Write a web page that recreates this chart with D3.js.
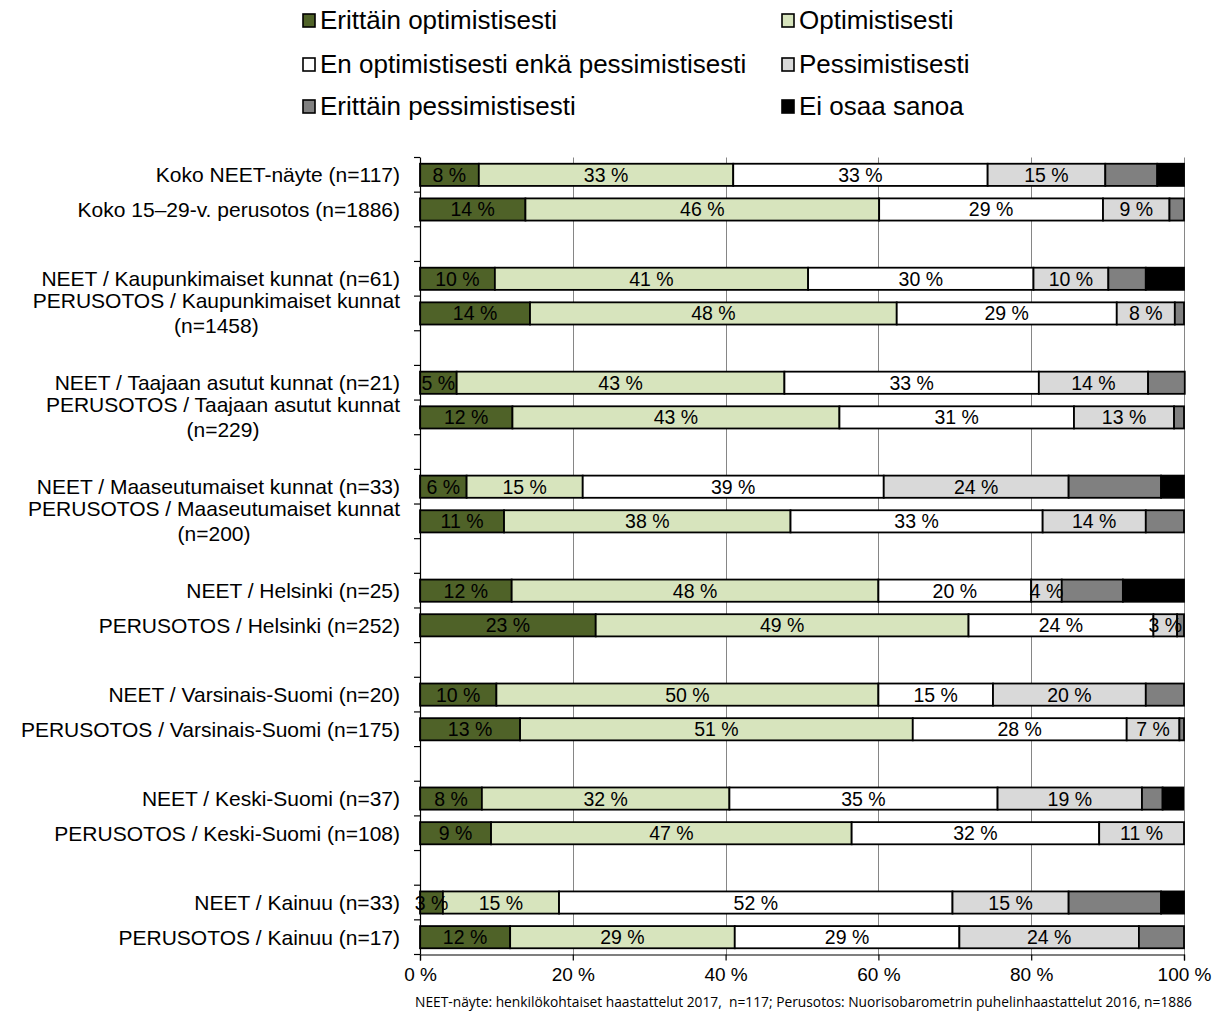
<!DOCTYPE html>
<html>
<head>
<meta charset="utf-8">
<script src="https://cdn.jsdelivr.net/npm/d3@7"></script>
<style>
  html, body { margin: 0; padding: 0; background: #fff; }
  svg { display: block; font-family: "Liberation Sans", Arial, sans-serif; }
</style>
</head>
<body>
<svg id="chart" width="1222" height="1021"></svg>
<script>
const categories = [
  "Koko NEET-näyte (n=117)",
  "Koko 15–29-v. perusotos (n=1886)",
  "NEET / Kaupunkimaiset kunnat (n=61)",
  "PERUSOTOS / Kaupunkimaiset kunnat\n(n=1458)",
  "NEET / Taajaan asutut kunnat (n=21)",
  "PERUSOTOS / Taajaan asutut kunnat\n(n=229)",
  "NEET / Maaseutumaiset kunnat (n=33)",
  "PERUSOTOS / Maaseutumaiset kunnat\n(n=200)",
  "NEET / Helsinki (n=25)",
  "PERUSOTOS / Helsinki (n=252)",
  "NEET / Varsinais-Suomi (n=20)",
  "PERUSOTOS / Varsinais-Suomi (n=175)",
  "NEET / Keski-Suomi (n=37)",
  "PERUSOTOS / Keski-Suomi (n=108)",
  "NEET / Kainuu (n=33)",
  "PERUSOTOS / Kainuu (n=17)"
];
const seriesNames = [
  "Erittäin optimistisesti",
  "Optimistisesti",
  "En optimistisesti enkä pessimistisesti",
  "Pessimistisesti",
  "Erittäin pessimistisesti",
  "Ei osaa sanoa"
];
const erittainOptimistisesti = [7.7, 13.8, 9.8, 14.4, 4.8, 12.1, 6.1, 11.0, 12, 23.0, 10, 13.1, 8.1, 9.3, 3.0, 11.8];
const optimistisesti        = [33.3, 46.3, 41.0, 48.0, 42.9, 42.8, 15.2, 37.5, 48, 48.8, 50, 51.4, 32.4, 47.2, 15.2, 29.4];
const neutraali             = [33.3, 29.3, 29.5, 28.8, 33.3, 30.7, 39.4, 33.0, 20, 24.2, 15, 28.0, 35.1, 32.4, 51.5, 29.4];
const pessimistisesti       = [15.4, 8.7, 9.8, 7.6, 14.3, 13.1, 24.2, 13.5, 4, 3.1, 20, 6.9, 18.9, 11.1, 15.2, 23.5];
const erittainPessimistisesti = [6.8, 1.9, 4.9, 1.2, 4.8, 1.3, 12.1, 5.0, 8, 0.9, 5, 0.6, 2.7, 0, 12.1, 5.9];
const eiOsaaSanoa           = [3.5, 0, 5.0, 0, 0, 0, 3.0, 0, 8, 0, 0, 0, 2.7, 0, 3.0, 0];
const xTicks = [0, 20, 40, 60, 80, 100];
const xTickLabels = ["0 %", "20 %", "40 %", "60 %", "80 %", "100 %"];
const colors = ["#4f6228", "#d7e4bd", "#ffffff", "#d9d9d9", "#808080", "#000000"];
const footnote = "NEET-näyte: henkilökohtaiset haastattelut 2017,  n=117; Perusotos: Nuorisobarometrin puhelinhaastattelut 2016, n=1886";

const allSeries = [erittainOptimistisesti, optimistisesti, neutraali, pessimistisesti, erittainPessimistisesti, eiOsaaSanoa];
const keys = seriesNames;
const rows = categories.map((c, i) => {
  const o = { cat: c, slot: Math.floor(i / 2) * 3 + (i % 2) };
  keys.forEach((k, s) => o[k] = allSeries[s][i]);
  return o;
});
const stacked = d3.stack().keys(keys)(rows);

const svg = d3.select("#chart");
const x0 = 420, x1 = 1184, yTop = 157.5, yBot = 954.5;
const nSlots = 23;
const x = d3.scaleLinear().domain([0, 100]).range([x0, x1]);
const y = d3.scaleBand().domain(d3.range(nSlots)).range([yTop, yBot]).paddingInner(0.36).paddingOuter(0.18);

// gridlines
svg.append("g").selectAll("line").data(xTicks.filter(d => d > 0)).join("line")
  .attr("x1", d => Math.round(x(d)) + 0.5).attr("x2", d => Math.round(x(d)) + 0.5)
  .attr("y1", yTop).attr("y2", yBot)
  .attr("stroke", "#868686").attr("stroke-width", 1);

// bars
const g = svg.append("g");
stacked.forEach((layer, s) => {
  g.append("g").selectAll("rect").data(layer.filter(d => d[1] - d[0] > 0)).join("rect")
    .attr("x", d => x(d[0]))
    .attr("y", d => y(d.data.slot))
    .attr("width", d => x(d[1]) - x(d[0]))
    .attr("height", y.bandwidth())
    .attr("fill", colors[s])
    .attr("stroke", "#000")
    .attr("stroke-width", 1.8);
});

// value labels (first four series)
stacked.slice(0, 4).forEach((layer, s) => {
  g.append("g").selectAll("text").data(layer.filter(d => d[1] - d[0] >= 2.5)).join("text")
    .attr("x", d => x((d[0] + d[1]) / 2))
    .attr("y", d => y(d.data.slot) + y.bandwidth() / 2)
    .attr("dy", "0.36em")
    .attr("text-anchor", "middle")
    .attr("font-size", 19.5)
    .attr("fill", "#000")
    .text(d => Math.round(d[1] - d[0]) + " %");
});

// left axis
const step = (yBot - yTop) / nSlots;
svg.append("line").attr("x1", x0 + 0.5).attr("x2", x0 + 0.5).attr("y1", yTop).attr("y2", yBot)
  .attr("stroke", "#000").attr("stroke-width", 1.2);
svg.append("g").selectAll("line").data(d3.range(nSlots + 1)).join("line")
  .attr("x1", x0 - 6).attr("x2", x0)
  .attr("y1", d => yTop + d * step).attr("y2", d => yTop + d * step)
  .attr("stroke", "#000").attr("stroke-width", 1.2);

// bottom axis
const xAxis = d3.axisBottom(x).tickValues(xTicks).tickSize(6).tickFormat((d, i) => xTickLabels[i]);
const ax = svg.append("g").attr("transform", `translate(0,${yBot})`).call(xAxis);
ax.select(".domain").attr("stroke", "#000").attr("stroke-width", 1.2);
ax.selectAll(".tick line").attr("stroke", "#000").attr("stroke-width", 1.2);
ax.selectAll(".tick text").attr("font-size", 19).attr("font-family", "Liberation Sans, Arial, sans-serif")
  .attr("fill", "#000").attr("y", 13).attr("dy", "0.71em");

// category labels
const labG = svg.append("g");
rows.forEach(r => {
  const lines = r.cat.split("\n");
  const cy = y(r.slot) + y.bandwidth() / 2;
  const lh = 25;
  const t = labG.append("text").attr("font-size", 21).attr("fill", "#000");
  lines.forEach((ln, i) => {
    t.append("tspan").attr("y", cy + (i - (lines.length - 1) / 2) * lh).attr("dy", "0.36em").text(ln);
  });
  const widths = [];
  t.selectAll("tspan").each(function () { widths.push(this.getComputedTextLength()); });
  const maxW = d3.max(widths);
  t.attr("text-anchor", "middle");
  t.selectAll("tspan").attr("x", 400 - maxW / 2);
});

// legend
const legPos = [[305, 20], [784, 20], [305, 64], [784, 64], [305, 106], [784, 106]];
const lg = svg.append("g");
seriesNames.forEach((n, i) => {
  const [lx, ly] = legPos[i];
  lg.append("rect").attr("x", lx - 2).attr("y", ly - 6).attr("width", 12).attr("height", 13)
    .attr("fill", colors[i]).attr("stroke", "#000").attr("stroke-width", 1.6);
  lg.append("text").attr("x", lx + 15).attr("y", ly).attr("dy", "0.36em")
    .attr("font-size", 26).attr("fill", "#000").text(n);
});

// footnote
svg.append("text").attr("x", 415).attr("y", 1007)
  .attr("font-family", "'Open Sans', 'Noto Sans', sans-serif").attr("font-size", 14)
  .attr("xml:space", "preserve").style("white-space", "pre")
  .attr("textLength", 777).attr("lengthAdjust", "spacingAndGlyphs")
  .attr("fill", "#000").text(footnote);
</script>
</body>
</html>
